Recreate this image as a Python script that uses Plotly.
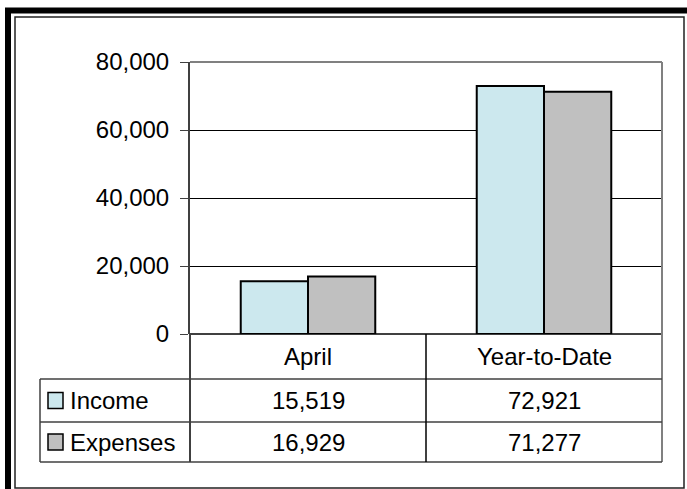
import plotly.graph_objects as go

categories = ["April", "Year-to-Date"]
series_names = ["Income", "Expenses"]
income = [15519, 72921]
expenses = [16929, 71277]
y_ticks = [0, 20000, 40000, 60000, 80000]

colors = ["#CCE8EE", "#C0C0C0"]
W, H = 687, 489
FONT = "Arial, Liberation Sans, sans-serif"
FS = 24


def px(x):
    return x / W


def py(y):
    return 1 - y / H


fig = go.Figure()
for name, vals, col in zip(series_names, [income, expenses], colors):
    fig.add_trace(go.Bar(
        x=categories, y=vals, name=name,
        marker=dict(color=col, line=dict(color="#000000", width=2)),
        showlegend=False, hoverinfo="skip",
    ))

x0, x1 = 190, 662
y_top, y_zero = 62, 334
row_tops = [334, 379, 422, 462]
table_left = 40
mid_x = 426

shapes = []
# outer frame
shapes.append(dict(type="rect", xref="paper", yref="paper", x0=px(8), x1=px(700), y0=py(500), y1=py(10.5),
                   line=dict(color="#000000", width=6), fillcolor="rgba(0,0,0,0)", layer="above"))
shapes.append(dict(type="rect", xref="paper", yref="paper", x0=px(15), x1=px(684), y0=py(488), y1=py(17),
                   line=dict(color="#222222", width=1.5), fillcolor="rgba(0,0,0,0)", layer="above"))
# plot area top/right border
shapes.append(dict(type="line", xref="paper", yref="paper", x0=px(x0), x1=px(x1), y0=py(y_top), y1=py(y_top),
                   line=dict(color="#808080", width=2), layer="below"))
shapes.append(dict(type="line", xref="paper", yref="paper", x0=px(x1), x1=px(x1), y0=py(y_top), y1=py(row_tops[-1]),
                   line=dict(color="#808080", width=2)))
# table horizontal lines
for yy in row_tops[1:]:
    shapes.append(dict(type="line", xref="paper", yref="paper", x0=px(table_left), x1=px(x1), y0=py(yy), y1=py(yy),
                       line=dict(color="#404040", width=1.5)))
# table verticals
shapes.append(dict(type="line", xref="paper", yref="paper", x0=px(table_left), x1=px(table_left), y0=py(row_tops[1]), y1=py(row_tops[-1]),
                   line=dict(color="#404040", width=1.5)))
shapes.append(dict(type="line", xref="paper", yref="paper", x0=px(x0), x1=px(x0), y0=py(y_zero), y1=py(row_tops[-1]),
                   line=dict(color="#404040", width=2)))
shapes.append(dict(type="line", xref="paper", yref="paper", x0=px(mid_x), x1=px(mid_x), y0=py(y_zero), y1=py(row_tops[-1]),
                   line=dict(color="#000000", width=1.5)))
# legend keys
for i, col in enumerate(colors):
    cy = (row_tops[i + 1] + row_tops[i + 2]) / 2
    shapes.append(dict(type="rect", xref="paper", yref="paper", x0=px(48), x1=px(63), y0=py(cy + 8), y1=py(cy - 8),
                       line=dict(color="#000000", width=1.5), fillcolor=col))

annotations = []
hdr_y = (row_tops[0] + row_tops[1]) / 2
for c in categories:
    annotations.append(dict(x=c, xref="x", y=py(hdr_y), yref="paper", text=c, showarrow=False,
                            font=dict(family=FONT, size=FS, color="#000000"), xanchor="center", yanchor="middle"))
for i, (name, vals) in enumerate(zip(series_names, [income, expenses])):
    cy = (row_tops[i + 1] + row_tops[i + 2]) / 2
    annotations.append(dict(x=px(68), xref="paper", y=py(cy), yref="paper", text=name, showarrow=False,
                            font=dict(family=FONT, size=FS, color="#000000"), xanchor="left", yanchor="middle"))
    for c, v in zip(categories, vals):
        annotations.append(dict(x=c, xref="x", y=py(cy), yref="paper", text=f"{v:,}", showarrow=False,
                                font=dict(family=FONT, size=FS, color="#000000"), xanchor="center", yanchor="middle"))

fig.update_layout(
    template="none",
    width=W, height=H,
    margin=dict(l=0, r=0, t=0, b=0, pad=0),
    paper_bgcolor="#FFFFFF", plot_bgcolor="#FFFFFF",
    barmode="group", bargap=0.43, bargroupgap=0,
    font=dict(family=FONT, size=FS, color="#000000"),
    xaxis=dict(domain=[px(x0), px(x1)], showticklabels=False, showgrid=False, ticks="", showline=False,
               zeroline=False, fixedrange=True, automargin=False),
    yaxis=dict(domain=[py(y_zero), py(y_top)], range=[0, 80000], tickvals=y_ticks, tickformat=",",
               ticks="outside", ticklen=8, tickcolor="#404040", tickwidth=1,
               showline=True, linecolor="#404040", linewidth=2,
               showgrid=True, gridcolor="#000000", gridwidth=1,
               zeroline=True, zerolinecolor="#404040", zerolinewidth=2, automargin=False, fixedrange=True,
               tickfont=dict(family=FONT, size=FS, color="#000000"), ticklabelstandoff=6),
    shapes=shapes, annotations=annotations,
)

fig.write_html("out.html", config={"displayModeBar": False},
               post_script="document.body.style.margin='0px';document.body.style.padding='0px';")
